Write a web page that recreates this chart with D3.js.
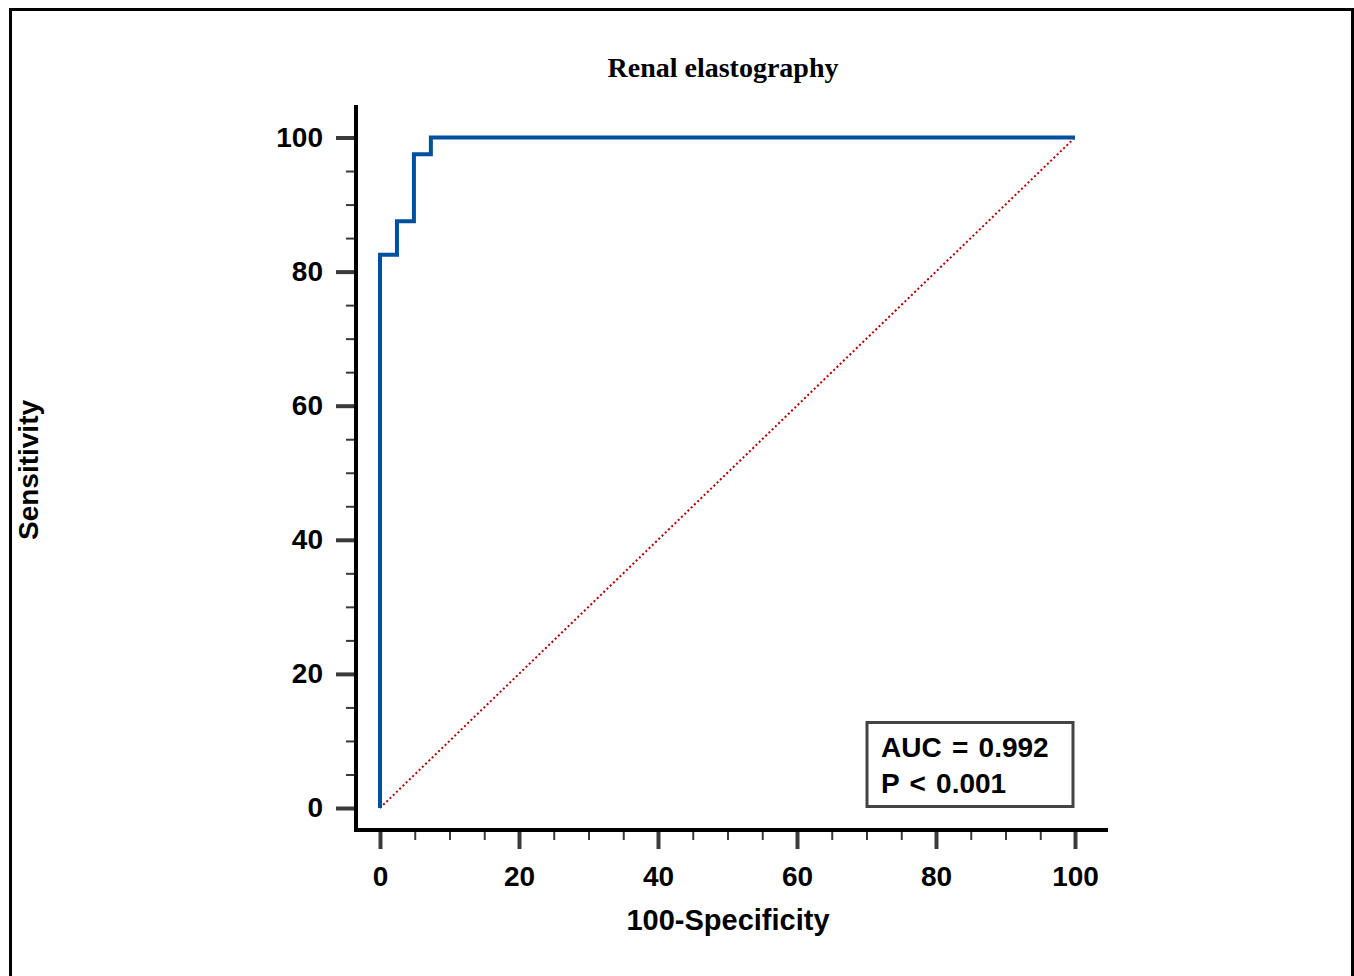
<!DOCTYPE html>
<html>
<head>
<meta charset="utf-8">
<script src="https://cdn.jsdelivr.net/npm/d3@7/dist/d3.min.js"></script>
<style>
  html, body { margin: 0; padding: 0; background: #fff; }
  svg { display: block; }
</style>
</head>
<body>
<svg id="chart" width="1354" height="976"></svg>
<script>
// ---- data ----
const title = "Renal elastography";
const xLabel = "100-Specificity";
const yLabel = "Sensitivity";
const rocFpr = [0, 0, 2.44, 2.44, 4.88, 4.88, 7.32, 7.32, 100];
const rocTpr = [0, 82.5, 82.5, 87.5, 87.5, 97.5, 97.5, 100, 100];
const diagonal = [0, 100];
const majorTicks = [0, 20, 40, 60, 80, 100];
const minorTicks = [5, 10, 15, 25, 30, 35, 45, 50, 55, 65, 70, 75, 85, 90, 95];
const statLines = ["AUC = 0.992", "P < 0.001"];

// ---- layout ----
const svg = d3.select("#chart");
const axisX0 = 356, axisY0 = 830;
const x = d3.scaleLinear().domain([0, 100]).range([380, 1075]);
const y = d3.scaleLinear().domain([0, 100]).range([808, 137.5]);
const sans = "Arial, 'Liberation Sans', Helvetica, sans-serif";
const serif = "'Times New Roman', 'Liberation Serif', serif";
const fs = 28;

// outer frame
svg.append("rect")
  .attr("x", 10.5).attr("y", 9.5)
  .attr("width", 1342).attr("height", 1000)
  .attr("fill", "none").attr("stroke", "#000").attr("stroke-width", 3);

// title
svg.append("text")
  .attr("x", 723).attr("y", 77)
  .attr("text-anchor", "middle")
  .attr("font-family", serif).attr("font-weight", "bold").attr("font-size", 28)
  .attr("fill", "#000")
  .text(title);

// minor ticks
const xMinor = d3.axisBottom(x).tickValues(minorTicks).tickSize(10).tickFormat("");
const gxm = svg.append("g").attr("transform", `translate(0,${axisY0})`).call(xMinor);
const yMinor = d3.axisLeft(y).tickValues(minorTicks).tickSize(10).tickFormat("");
const gym = svg.append("g").attr("transform", `translate(${axisX0},0)`).call(yMinor);
[gxm, gym].forEach(g => {
  g.select(".domain").remove();
  g.selectAll(".tick line").attr("stroke", "#3a3a3a").attr("stroke-width", 2);
});

// major ticks
const xMajor = d3.axisBottom(x).tickValues(majorTicks).tickSize(19).tickPadding(17).tickFormat(d3.format("d"));
const gx = svg.append("g").attr("transform", `translate(0,${axisY0})`).call(xMajor);
const yMajor = d3.axisLeft(y).tickValues(majorTicks).tickSize(20).tickPadding(13).tickFormat(d3.format("d"));
const gy = svg.append("g").attr("transform", `translate(${axisX0},0)`).call(yMajor);
[gx, gy].forEach(g => {
  g.select(".domain").remove();
  g.selectAll(".tick line").attr("stroke", "#3a3a3a").attr("stroke-width", 4);
  g.selectAll(".tick text")
    .attr("font-family", sans).attr("font-weight", "bold").attr("font-size", fs)
    .attr("fill", "#000");
});

// axis lines
svg.append("path")
  .attr("d", `M${axisX0},105 V${axisY0} H1108`)
  .attr("fill", "none").attr("stroke", "#000").attr("stroke-width", 4)
  .attr("stroke-linejoin", "miter");

// diagonal reference
svg.append("line")
  .attr("x1", x(diagonal[0])).attr("y1", y(diagonal[0]))
  .attr("x2", x(diagonal[1])).attr("y2", y(diagonal[1]))
  .attr("stroke", "#b00000").attr("stroke-width", 2)
  .attr("stroke-dasharray", "2,2.5");

// ROC curve
const rocPts = rocFpr.map((v, i) => [v, rocTpr[i]]);
svg.append("path")
  .datum(rocPts)
  .attr("d", d3.line().x(d => x(d[0])).y(d => y(d[1])))
  .attr("fill", "none").attr("stroke", "#0050a0").attr("stroke-width", 4)
  .attr("stroke-linejoin", "miter");

// stats box
svg.append("rect")
  .attr("x", 867).attr("y", 722.5).attr("width", 206).attr("height", 84)
  .attr("fill", "#fff").attr("stroke", "#444").attr("stroke-width", 3);
svg.selectAll("text.stat").data(statLines).enter().append("text")
  .attr("class", "stat")
  .attr("x", 881).attr("y", (d, i) => 757 + i * 36)
  .attr("font-family", sans).attr("font-weight", "bold").attr("font-size", fs)
  .attr("word-spacing", 2.5)
  .attr("fill", "#000")
  .text(d => d);

// axis labels
svg.append("text")
  .attr("x", 728).attr("y", 930)
  .attr("text-anchor", "middle")
  .attr("font-family", sans).attr("font-weight", "bold").attr("font-size", 29)
  .attr("fill", "#000")
  .text(xLabel);
svg.append("text")
  .attr("transform", "translate(38,470) rotate(-90)")
  .attr("text-anchor", "middle")
  .attr("font-family", sans).attr("font-weight", "bold").attr("font-size", 28)
  .attr("fill", "#000")
  .text(yLabel);
</script>
</body>
</html>
